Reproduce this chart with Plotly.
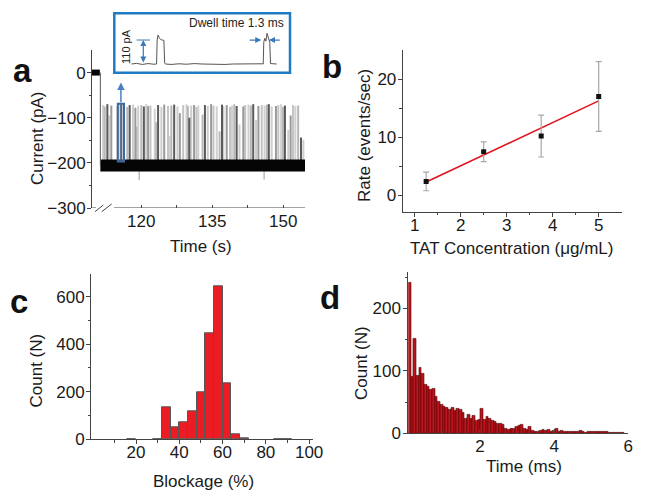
import plotly.graph_objects as go

W, H = 645, 501
FONT = "Arial, Liberation Sans, sans-serif"


def px(p):
    return p / W


def py(p):
    return 1 - p / H


def dx(a, b):
    return [a / W, b / W]


def dy(top, bottom):
    return [1 - bottom / H, 1 - top / H]


# ---------------- Panel a: current trace ----------------
open_start = 109.64
open_end = 111.3
trace_start = 111.4
trace_end = 154.64
open_level = 0
baseline_level = -206
time_ticks = [120, 135, 150]
spike_times = [111.97, 112.33, 112.88, 113.3, 113.72, 114.99, 115.8, 117.1, 117.6, 118.3,
               118.8, 119.1, 119.4, 120.06, 120.6, 121.1, 121.5, 122.0, 122.9, 123.2,
               123.6, 124.3, 124.9, 125.7, 126.0, 126.4, 127.0, 127.7, 128.2, 128.9,
               129.6, 129.9, 130.2, 130.6, 131.2, 131.7, 132.1, 133.0, 133.5, 134.1,
               134.8, 135.3, 136.0, 136.6, 137.1, 137.4, 138.1, 138.8, 139.2, 139.7,
               140.2, 140.8, 141.6, 142.0, 142.7, 143.2, 143.7, 144.3, 144.8, 145.5,
               146.1, 146.6, 147.0, 147.6, 148.5, 149.0, 149.6, 150.0, 150.4, 151.1,
               151.6, 152.1, 152.6, 153.2, 153.8, 154.3]
spike_peaks = [-72, -75, -70, -95, -73, -74, -70, -76, -72, -71,
               -78, -120, -73, -72, -75, -70, -74, -73, -80, -110,
               -72, -76, -71, -74, -140, -73, -71, -75, -90, -72,
               -70, -74, -100, -73, -72, -76, -73, -93, -72, -74,
               -70, -73, -75, -130, -71, -74, -72, -76, -73, -70,
               -74, -115, -75, -72, -71, -73, -70, -105, -74, -72,
               -73, -71, -70, -75, -74, -72, -70, -76, -73, -127,
               -95, -72, -74, -73, -144, -149]
down_times = [119.6, 146.0]
down_values = [-238, -237]
highlight_time = 115.8

# inset (single events, ms / pA)
inset_t = [1.7, 3, 4.5, 6, 7.5, 8.2, 8.35, 8.6, 8.9, 9.3, 9.7, 10.1, 10.3, 10.5, 12, 14, 16, 18,
           20, 22, 24, 26, 28, 30, 32, 34, 35.6, 35.9, 36.05, 36.3, 36.6, 36.9, 37.3, 37.6, 37.8, 39.4]
inset_i = [0, 3, -2, 2, -1, 0, 110, 133, 120, 112, 110, 108, 5, 0, -2, 1, -1, 2,
           0, -1, 1, -2, 0, 1, -1, 0, 1, 0, 100, 118, 105, 141, 112, 100, 2, 0]
blockade_amp = 110

# ---------------- Panel b ----------------
conc = [1.25, 2.5, 3.75, 5.0]
rate = [2.4, 7.5, 10.2, 17.0]
rate_err = [1.6, 1.7, 3.6, 6.0]
fit_x = [1.25, 5.0]
fit_y = [2.3, 16.25]

# ---------------- Panel c ----------------
block_centers = [18, 30, 34, 38, 42, 46, 50, 54, 58, 62, 66, 70, 86, 90]
block_counts = [1, 2, 133, 50, 72, 119, 199, 446, 645, 236, 21, 3, 2, 2]
block_width = 4

# ---------------- Panel d ----------------
dwell_start = 0.07
dwell_bin = 0.072
dwell_counts = [241, 91, 152, 92, 105, 95, 78, 75, 69, 72,
                59, 51, 45, 43, 41, 38, 41, 36, 40, 37,
                33, 23, 30, 23, 28, 20, 22, 40, 22, 27,
                24, 20, 18, 16, 15, 13, 8, 6, 8, 8,
                10, 12, 13, 8, 5, 10, 4, 3, 3, 4,
                5, 4, 5, 3, 4, 7, 3, 4, 2, 2,
                3, 2, 3, 3, 4, 3, 1, 3, 2, 2,
                2, 3, 2, 3, 2, 1, 1, 1, 1, 1, 1]
dwell_centers = [dwell_start + dwell_bin * (k + 0.5) for k in range(len(dwell_counts))]

fig = go.Figure()

# --- panel a traces ---
shades = ["#d0d0d0", "#b8b8b8", "#5a5a5a", "#cdcdcd", "#9a9a9a", "#c4c4c4"]
order = ["#d0d0d0", "#cdcdcd", "#c4c4c4", "#b8b8b8", "#9a9a9a", "#5a5a5a", "#2a2a2a"]
groups = {}
for k, (t, p) in enumerate(zip(spike_times, spike_peaks)):
    col = "#2a2a2a" if t == highlight_time else shades[k % len(shades)]
    groups.setdefault(col, ([], []))
    groups[col][0].extend([t, t, None])
    groups[col][1].extend([baseline_level, p, None])
for col in order:
    if col in groups:
        fig.add_trace(go.Scatter(x=groups[col][0], y=groups[col][1], mode="lines",
                                 line=dict(color=col, width=2), xaxis="x", yaxis="y",
                                 hoverinfo="skip", showlegend=False))
dxs, dys = [], []
for t, v in zip(down_times, down_values):
    dxs += [t, t, None]
    dys += [baseline_level, v, None]
fig.add_trace(go.Scatter(x=dxs, y=dys, mode="lines", line=dict(color="#999", width=1),
                         xaxis="x", yaxis="y", showlegend=False, hoverinfo="skip"))
fig.add_trace(go.Scatter(x=[trace_start, trace_end], y=[baseline_level, baseline_level], mode="lines",
                         line=dict(color="#050505", width=12), xaxis="x", yaxis="y",
                         showlegend=False, hoverinfo="skip"))
fig.add_trace(go.Scatter(x=[open_start, open_end], y=[open_level, open_level], mode="lines",
                         line=dict(color="#050505", width=6), xaxis="x", yaxis="y",
                         showlegend=False, hoverinfo="skip"))
fig.add_trace(go.Scatter(x=[trace_start, trace_start], y=[open_level, baseline_level], mode="lines",
                         line=dict(color="#555", width=1), xaxis="x", yaxis="y",
                         showlegend=False, hoverinfo="skip"))

# inset trace
fig.add_trace(go.Scatter(x=inset_t, y=inset_i, mode="lines", line=dict(color="#555", width=1),
                         xaxis="x5", yaxis="y5", showlegend=False, hoverinfo="skip"))

# --- panel b ---
fig.add_trace(go.Scatter(x=fit_x, y=fit_y, mode="lines", line=dict(color="#e0141e", width=1.6),
                         xaxis="x2", yaxis="y2", showlegend=False))
fig.add_trace(go.Scatter(x=conc, y=rate, mode="markers",
                         marker=dict(symbol="square", size=5, color="#111"),
                         error_y=dict(type="data", array=rate_err, color="#a8a8a8", thickness=1.2, width=3),
                         xaxis="x2", yaxis="y2", showlegend=False))

# --- panel c ---
fig.add_trace(go.Bar(x=block_centers, y=block_counts, width=block_width,
                     marker=dict(color="#ec1c24", line=dict(color="#555", width=1)),
                     xaxis="x3", yaxis="y3", showlegend=False))

# --- panel d ---
fig.add_trace(go.Bar(x=dwell_centers, y=dwell_counts, width=dwell_bin,
                     marker=dict(color="#c0141c", line=dict(color="#4a0808", width=0.6)),
                     xaxis="x4", yaxis="y4", showlegend=False))

tick_font = dict(family=FONT, size=17, color="#1a1a1a")


def axis(**kw):
    d = dict(showline=True, linecolor="#444", linewidth=1, ticks="outside", ticklen=4,
             tickcolor="#444", tickwidth=1, showgrid=False, zeroline=False, automargin=False,
             tickfont=tick_font, fixedrange=True)
    d.update(kw)
    return d


def minor(vals, side="outside", length=2.5):
    return dict(ticks=side, ticklen=length, tickcolor="#444", tickvals=vals, showgrid=False)


fig.update_layout(
    template="none",
    width=W, height=H, margin=dict(l=0, r=0, t=0, b=0, autoexpand=False),
    paper_bgcolor="white", plot_bgcolor="rgba(0,0,0,0)",
    bargap=0, showlegend=False,
    xaxis=axis(domain=dx(92, 305), range=[109.64, 154.64], anchor="y", showline=False, ticks="",
               tickvals=time_ticks, showticklabels=False,
               minor=minor([120, 127.5, 135, 142.5, 150], "inside", 3.5)),
    yaxis=axis(domain=dy(50, 208), range=[-300, 50], anchor="x",
               tickvals=[0, -100, -200, -300], minor=minor([-50, -150, -250]), ticklabelstandoff=-2),
    xaxis2=axis(domain=dx(402.7, 621.7), range=[0.74, 5.5], anchor="y2",
                tickvals=[1, 2, 3, 4, 5], minor=minor([1.5, 2.5, 3.5, 4.5]), ticklabelstandoff=-6),
    yaxis2=axis(domain=dy(50, 211.7), range=[-2.8, 25], anchor="x2",
                tickvals=[0, 10, 20], minor=minor([5, 15]), ticklabelstandoff=-2),
    xaxis3=axis(domain=dx(91, 313), range=[-0.8, 101.8], anchor="y3",
                tickvals=[20, 40, 60, 80, 100], minor=minor([10, 30, 50, 70, 90]), ticklabelstandoff=-7),
    yaxis3=axis(domain=dy(274.3, 439.3), range=[0, 694], anchor="x3",
                tickvals=[0, 200, 400, 600], minor=minor([100, 300, 500]), ticklabelstandoff=-2),
    xaxis4=axis(domain=dx(408.3, 628.3), range=[0.067, 6.0], anchor="y4", ticks="inside",
                tickvals=[2, 4, 6], minor=minor([1, 3, 5], "inside"), ticklabelstandoff=-3),
    yaxis4=axis(domain=dy(271.7, 433.3), range=[0, 258.6], anchor="x4",
                tickvals=[0, 100, 200], minor=minor([50, 150, 250]), ticklabelstandoff=-1),
    xaxis5=dict(domain=dx(125, 285), range=[0, 41.56], anchor="y5", visible=False,
                fixedrange=True, automargin=False),
    yaxis5=dict(domain=dy(30, 68), range=[-18.3, 156], anchor="x5", visible=False,
                fixedrange=True, automargin=False),
)

blue = "#3b78b8"
shapes = [
    # inset box
    dict(type="rect", xref="paper", yref="paper", x0=px(114.3), x1=px(290), y0=py(72.7), y1=py(13.3),
         line=dict(color="#1f7bc4", width=2.5), fillcolor="white", layer="below"),
    # panel a broken x axis
    dict(type="line", xref="x", yref="y", x0=109.64, x1=110.5, y0=-300, y1=-300,
         line=dict(color="#444", width=1)),
    dict(type="line", xref="x", yref="y", x0=114.3, x1=154.64, y0=-300, y1=-300,
         line=dict(color="#444", width=1)),
    dict(type="line", xref="paper", yref="paper", x0=px(95), y0=py(211.7), x1=px(103.3), y1=py(205),
         line=dict(color="#444", width=1)),
    dict(type="line", xref="paper", yref="paper", x0=px(101.7), y0=py(211.7), x1=px(111.7), y1=py(204),
         line=dict(color="#444", width=1)),
    # highlighted event box
    dict(type="rect", xref="x", yref="y", x0=115.1, x1=116.4, y0=-197, y1=-69,
         line=dict(color="#3a6aa0", width=2), fillcolor="rgba(150,175,210,0.45)"),
    # inset amplitude tick line
    dict(type="line", xref="x5", yref="y5", x0=3, x1=6.5, y0=blockade_amp, y1=blockade_amp,
         line=dict(color=blue, width=1)),
]

ann = []
# panel a time tick labels
for t in time_ticks:
    ann.append(dict(text=str(t), x=t, y=py(222), xref="x", yref="paper", showarrow=False,
                    xanchor="center", yanchor="middle", font=tick_font))
# panel labels
for lab, x, y in [("a", 22, 70), ("b", 332, 66), ("c", 19, 301), ("d", 330, 297)]:
    ann.append(dict(text=lab, x=px(x), y=py(y), xref="paper", yref="paper", showarrow=False,
                    xanchor="center", yanchor="middle",
                    font=dict(family=FONT, size=33, color="#111", weight="bold")))
# axis titles
title_font = dict(family=FONT, size=17, color="#1a1a1a")
for txt, x, y, ang in [("Current (pA)", 38, 138, -90), ("Time (s)", 201, 246, 0),
                       ("Rate (events/sec)", 364, 136, -90), ("TAT Concentration (μg/mL)", 511, 248, 0),
                       ("Count (N)", 35.5, 371, -90), ("Blockage (%)", 203, 481, 0),
                       ("Count (N)", 361, 363, -90), ("Time (ms)", 524, 466, 0)]:
    ann.append(dict(text=txt, x=px(x), y=py(y), xref="paper", yref="paper", showarrow=False,
                    xanchor="center", yanchor="middle", textangle=ang, font=title_font))
# inset texts
ann.append(dict(text="Dwell time 1.3 ms", x=px(286), y=py(23), xref="paper", yref="paper",
                showarrow=False, xanchor="right", yanchor="middle",
                font=dict(family=FONT, size=12, color="#222")))
ann.append(dict(text="110 pA", x=px(126), y=py(47), xref="paper", yref="paper", showarrow=False,
                xanchor="center", yanchor="middle", textangle=-90,
                font=dict(family=FONT, size=11, color="#222")))
# inset arrows
ann.append(dict(text="", x=4.75, y=blockade_amp, ax=4.75, ay=0, xref="x5", yref="y5",
                axref="x5", ayref="y5", showarrow=True, arrowhead=2, startarrowhead=2,
                arrowside="end+start", arrowsize=1, arrowwidth=1.2, arrowcolor=blue))
ann.append(dict(text="", x=35.4, y=blockade_amp, ax=32, ay=blockade_amp, xref="x5", yref="y5",
                axref="x5", ayref="y5", showarrow=True, arrowhead=2, arrowsize=1,
                arrowwidth=1.2, arrowcolor=blue))
ann.append(dict(text="", x=37.4, y=blockade_amp, ax=40.6, ay=blockade_amp, xref="x5", yref="y5",
                axref="x5", ayref="y5", showarrow=True, arrowhead=2, arrowsize=1,
                arrowwidth=1.2, arrowcolor=blue))
# panel a up arrow from highlighted event
ann.append(dict(text="", x=highlight_time - 0.05, y=-22, ax=highlight_time - 0.05, ay=-69,
                xref="x", yref="y", axref="x", ayref="y", showarrow=True, arrowhead=2,
                arrowsize=1, arrowwidth=1.5, arrowcolor="#4a7fc0"))

fig.update_layout(shapes=shapes, annotations=ann)
fig.write_html("out.html", config={"displayModeBar": False},
               post_script="document.body.style.margin='0px';document.body.style.padding='0px';")
